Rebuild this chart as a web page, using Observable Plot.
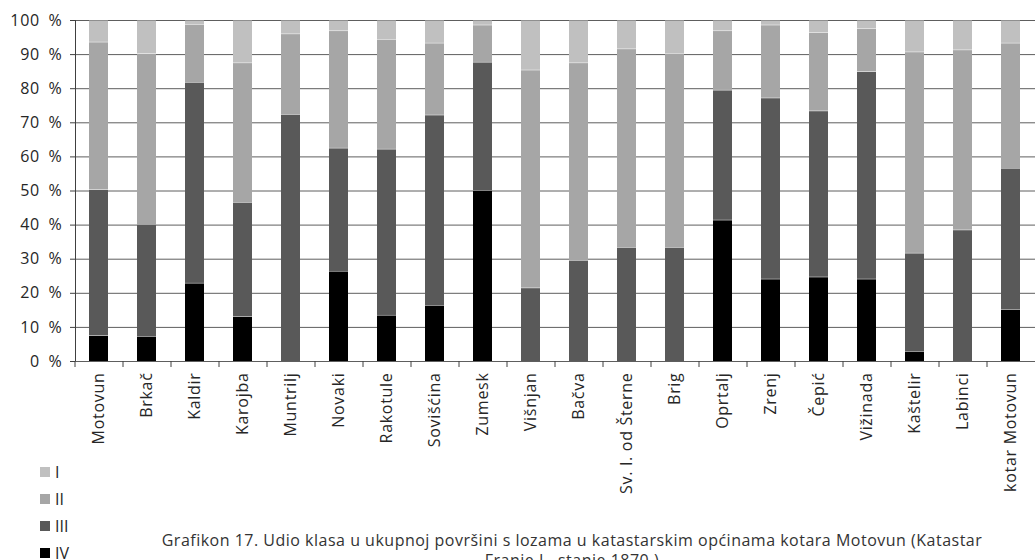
<!DOCTYPE html>
<html>
<head>
<meta charset="utf-8">
<script src="https://cdn.jsdelivr.net/npm/d3@7"></script>
<script src="https://cdn.jsdelivr.net/npm/@observablehq/plot@0.6"></script>
<style>
  html, body { margin: 0; padding: 0; background: #fff; }
  #wrap { position: relative; width: 1035px; height: 560px; overflow: hidden; font-family: "Open Sans", sans-serif; color: #262626; }
  #chart svg { display: block; }
  #legend { position: absolute; left: 40px; top: 458px; font-size: 16px; }
  #legend .item { display: flex; align-items: center; height: 27px; }
  #legend .sw { width: 10px; height: 10px; margin-right: 5px; }
  #caption { position: absolute; left: 110px; width: 924px; top: 530px; text-align: center; font-size: 16px; letter-spacing: 0.5px; line-height: 20px; color: #333; }
</style>
</head>
<body>
<div id="wrap">
  <div id="chart"></div>
  <div id="legend"></div>
  <div id="caption"></div>
</div>
<script>
const categories = ["Motovun","Brkač","Kaldir","Karojba","Muntrilj","Novaki","Rakotule","Sovišćina","Zumesk","Višnjan","Bačva","Sv. I. od Šterne","Brig","Oprtalj","Zrenj","Čepić","Vižinada","Kaštelir","Labinci","kotar Motovun"];
const classIV  = [7.5, 7.3, 22.9, 13.1, 0, 26.4, 13.5, 16.4, 50.0, 0, 0, 0, 0, 41.4, 24.1, 24.7, 24.1, 2.9, 0, 15.2];
const classIII = [42.8, 32.8, 58.9, 33.5, 72.4, 36.1, 48.7, 55.8, 37.7, 21.5, 29.6, 33.4, 33.4, 38.1, 53.1, 48.7, 60.8, 28.8, 38.5, 41.4];
const classII  = [43.3, 50.1, 17.0, 40.9, 23.6, 34.4, 32.2, 21.1, 10.9, 63.9, 57.9, 58.2, 56.9, 17.4, 21.4, 23.0, 12.6, 59.0, 52.8, 36.7];
const classI   = [6.4, 9.8, 1.2, 12.5, 4.0, 3.1, 5.6, 6.7, 1.4, 14.6, 12.5, 8.4, 9.7, 3.1, 1.4, 3.6, 2.5, 9.3, 8.7, 6.7];
const classes = ["I", "II", "III", "IV"];
const yTicks = [0, 10, 20, 30, 40, 50, 60, 70, 80, 90, 100];
const captionLines = [
  "Grafikon 17. Udio klasa u ukupnoj površini s lozama u katastarskim općinama kotara Motovun (Katastar",
  "Franje I., stanje 1870.)"
];

const classColors = ["#c0c0c0", "#a6a6a6", "#595959", "#000000"];
const series = {IV: classIV, III: classIII, II: classII, I: classI};
const stackOrder = ["IV", "III", "II", "I"];
const data = [];
categories.forEach((c, i) => {
  stackOrder.forEach(k => data.push({cat: c, cls: k, v: series[k][i]}));
});

const W = 1035, H = 560, mL = 75, mR = 0;
const step = (W - mL - mR) / categories.length;

const chart = Plot.plot({
  width: W,
  height: H,
  marginTop: 20,
  marginLeft: mL,
  marginRight: mR,
  marginBottom: 199,
  style: {fontFamily: "Open Sans, sans-serif", fontSize: "16px", color: "#262626", background: "#fff", letterSpacing: "0.7px"},
  x: {domain: categories, paddingInner: 0.6, paddingOuter: 0.3, label: null},
  y: {domain: [0, 100], label: null},
  color: {domain: classes, range: classColors},
  marks: [
    Plot.gridY(yTicks, {stroke: "#5e5e5e", strokeOpacity: 1, strokeWidth: 1}),
    Plot.barY(data, {x: "cat", y: "v", fill: "cls", order: stackOrder, insetTop: 0.5}),
    Plot.axisY(yTicks, {tickFormat: d => `${d}\u2002%`, tickSize: 5, tickPadding: 8, fontSize: 16, stroke: "#404040", fill: "#262626", label: null}),
    Plot.frame({anchor: "left", stroke: "#404040"}),
    Plot.ruleY([0], {stroke: "#5e5e5e"}),
    Plot.axisX({tickSize: 0, tickRotate: -90, tickPadding: 11, fontSize: 16, fill: "#262626", label: null}),
    Plot.axisX({tickSize: 6, tickFormat: () => "", dx: -step / 2, stroke: "#404040", label: null})
  ]
});
document.getElementById("chart").appendChild(chart);

const legend = document.getElementById("legend");
classes.forEach((k, i) => {
  const item = document.createElement("div");
  item.className = "item";
  const sw = document.createElement("span");
  sw.className = "sw";
  sw.style.background = classColors[i];
  const t = document.createElement("span");
  t.textContent = k;
  item.appendChild(sw);
  item.appendChild(t);
  legend.appendChild(item);
});

const cap = document.getElementById("caption");
captionLines.forEach((line, i) => {
  if (i) cap.appendChild(document.createElement("br"));
  cap.appendChild(document.createTextNode(line));
});
</script>
</body>
</html>
